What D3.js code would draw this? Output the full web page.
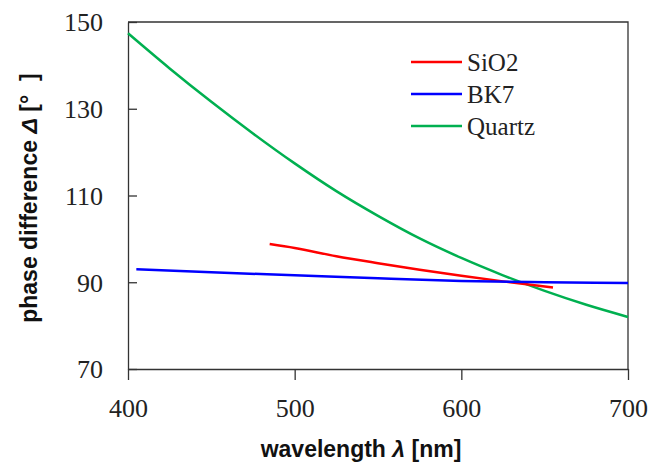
<!DOCTYPE html>
<html>
<head>
	<meta charset="utf-8">
	<title></title>
	<style>
		body { margin: 0; background: #fff; }
		.line { fill: none; stroke-width: 2.5; }
		.tick text { font-family: "Liberation Serif", "Times New Roman", serif; font-size: 26px; fill: #222; }
		.axis path, .axis line { stroke: #333; stroke-width: 1.3; }
		.title { font-family: "Liberation Sans", Arial, sans-serif; font-weight: bold; font-size: 23px; fill: #111; }
		.legend text { font-family: "Liberation Serif", "Times New Roman", serif; font-size: 25px; fill: #222; }
	</style>
</head>
<body>
	<svg id="container" height="465" width="650"></svg>
</body>
<script src="https://d3js.org/d3.v7.min.js"></script>
<script>
	// data
	let series = ["SiO2", "BK7", "Quartz"]
	let colors = ["#ff0000", "#0000ff", "#00b050"]

	let sio2Wave = [485, 500, 525, 550, 575, 600, 625, 655]
	let sio2Phase = [98.8, 97.9, 96.0, 94.4, 92.9, 91.5, 90.2, 88.8]

	let bk7Wave = [405, 450, 500, 550, 600, 650, 700]
	let bk7Phase = [93.0, 92.3, 91.6, 90.9, 90.3, 90.0, 89.8]

	let quartzWave = [400, 425, 450, 475, 500, 525, 550, 575, 600, 625, 650, 675, 700]
	let quartzPhase = [147.4, 139.3, 131.6, 124.3, 117.4, 111.0, 105.3, 100.1, 95.6, 91.6, 88.0, 84.8, 82.0]

	let xTicks = [400, 500, 600, 700]
	let yTicks = [70, 90, 110, 130, 150]

	let svg = d3.select("#container")
	let plotL = 128, plotR = 628, plotT = 22, plotB = 369

	let x = d3.scaleLinear().domain([400, 700]).range([plotL, plotR])
	let y = d3.scaleLinear().domain([70, 150]).range([plotB, plotT])

	// frame top + right
	svg.append("path")
		.attr("d", `M${plotL},${plotT}H${plotR}V${plotB}`)
		.attr("fill", "none")
		.attr("stroke", "#333")
		.attr("stroke-width", 1.3)

	let xAxis = svg.append("g")
		.attr("class", "axis")
		.attr("transform", `translate(0,${plotB})`)
		.call(d3.axisBottom(x).tickValues(xTicks).tickSize(11).tickSizeOuter(0).tickPadding(12))
	xAxis.selectAll("text").attr("dy", "0.95em")

	let yAxis = svg.append("g")
		.attr("class", "axis")
		.attr("transform", `translate(${plotL},0)`)
		.call(d3.axisLeft(y).tickValues(yTicks).tickSize(-9).tickSizeOuter(0).tickPadding(25))
	yAxis.selectAll("text").attr("dy", "0.34em")

	let data = [
		sio2Wave.map((w, i) => ({ w: w, p: sio2Phase[i] })),
		bk7Wave.map((w, i) => ({ w: w, p: bk7Phase[i] })),
		quartzWave.map((w, i) => ({ w: w, p: quartzPhase[i] }))
	]

	let line = d3.line()
		.x(d => x(d.w))
		.y(d => y(d.p))
		.curve(d3.curveMonotoneX)

	// draw quartz first, then sio2 and bk7
	;[2, 0, 1].forEach(i => {
		svg.append("path")
			.attr("class", "line")
			.attr("d", line(data[i]))
			.attr("stroke", colors[i])
	})

	// legend
	let legend = svg.append("g").attr("class", "legend")
	series.forEach((s, i) => {
		let ly = 62 + i * 32
		legend.append("line")
			.attr("x1", 411).attr("x2", 462)
			.attr("y1", ly).attr("y2", ly)
			.attr("stroke", colors[i])
			.attr("stroke-width", 2.5)
		legend.append("text")
			.attr("x", 467).attr("y", ly)
			.attr("dy", "0.34em")
			.text(s)
	})

	// axis titles
	let xt = svg.append("text")
		.attr("class", "title")
		.attr("x", 361).attr("y", 457)
		.attr("text-anchor", "middle")
	xt.append("tspan").text("wavelength ")
	xt.append("tspan").attr("font-style", "italic").text("λ")
	xt.append("tspan").text(" [nm]")

	let yt = svg.append("text")
		.attr("class", "title")
		.attr("transform", "translate(37,198) rotate(-90)")
		.attr("text-anchor", "middle")
	yt.append("tspan").text("phase difference ")
	yt.append("tspan").attr("font-style", "italic").text("Δ")
	yt.append("tspan").text(" [°")
	yt.append("tspan").attr("dx", 14).text("]")
</script>
</html>
